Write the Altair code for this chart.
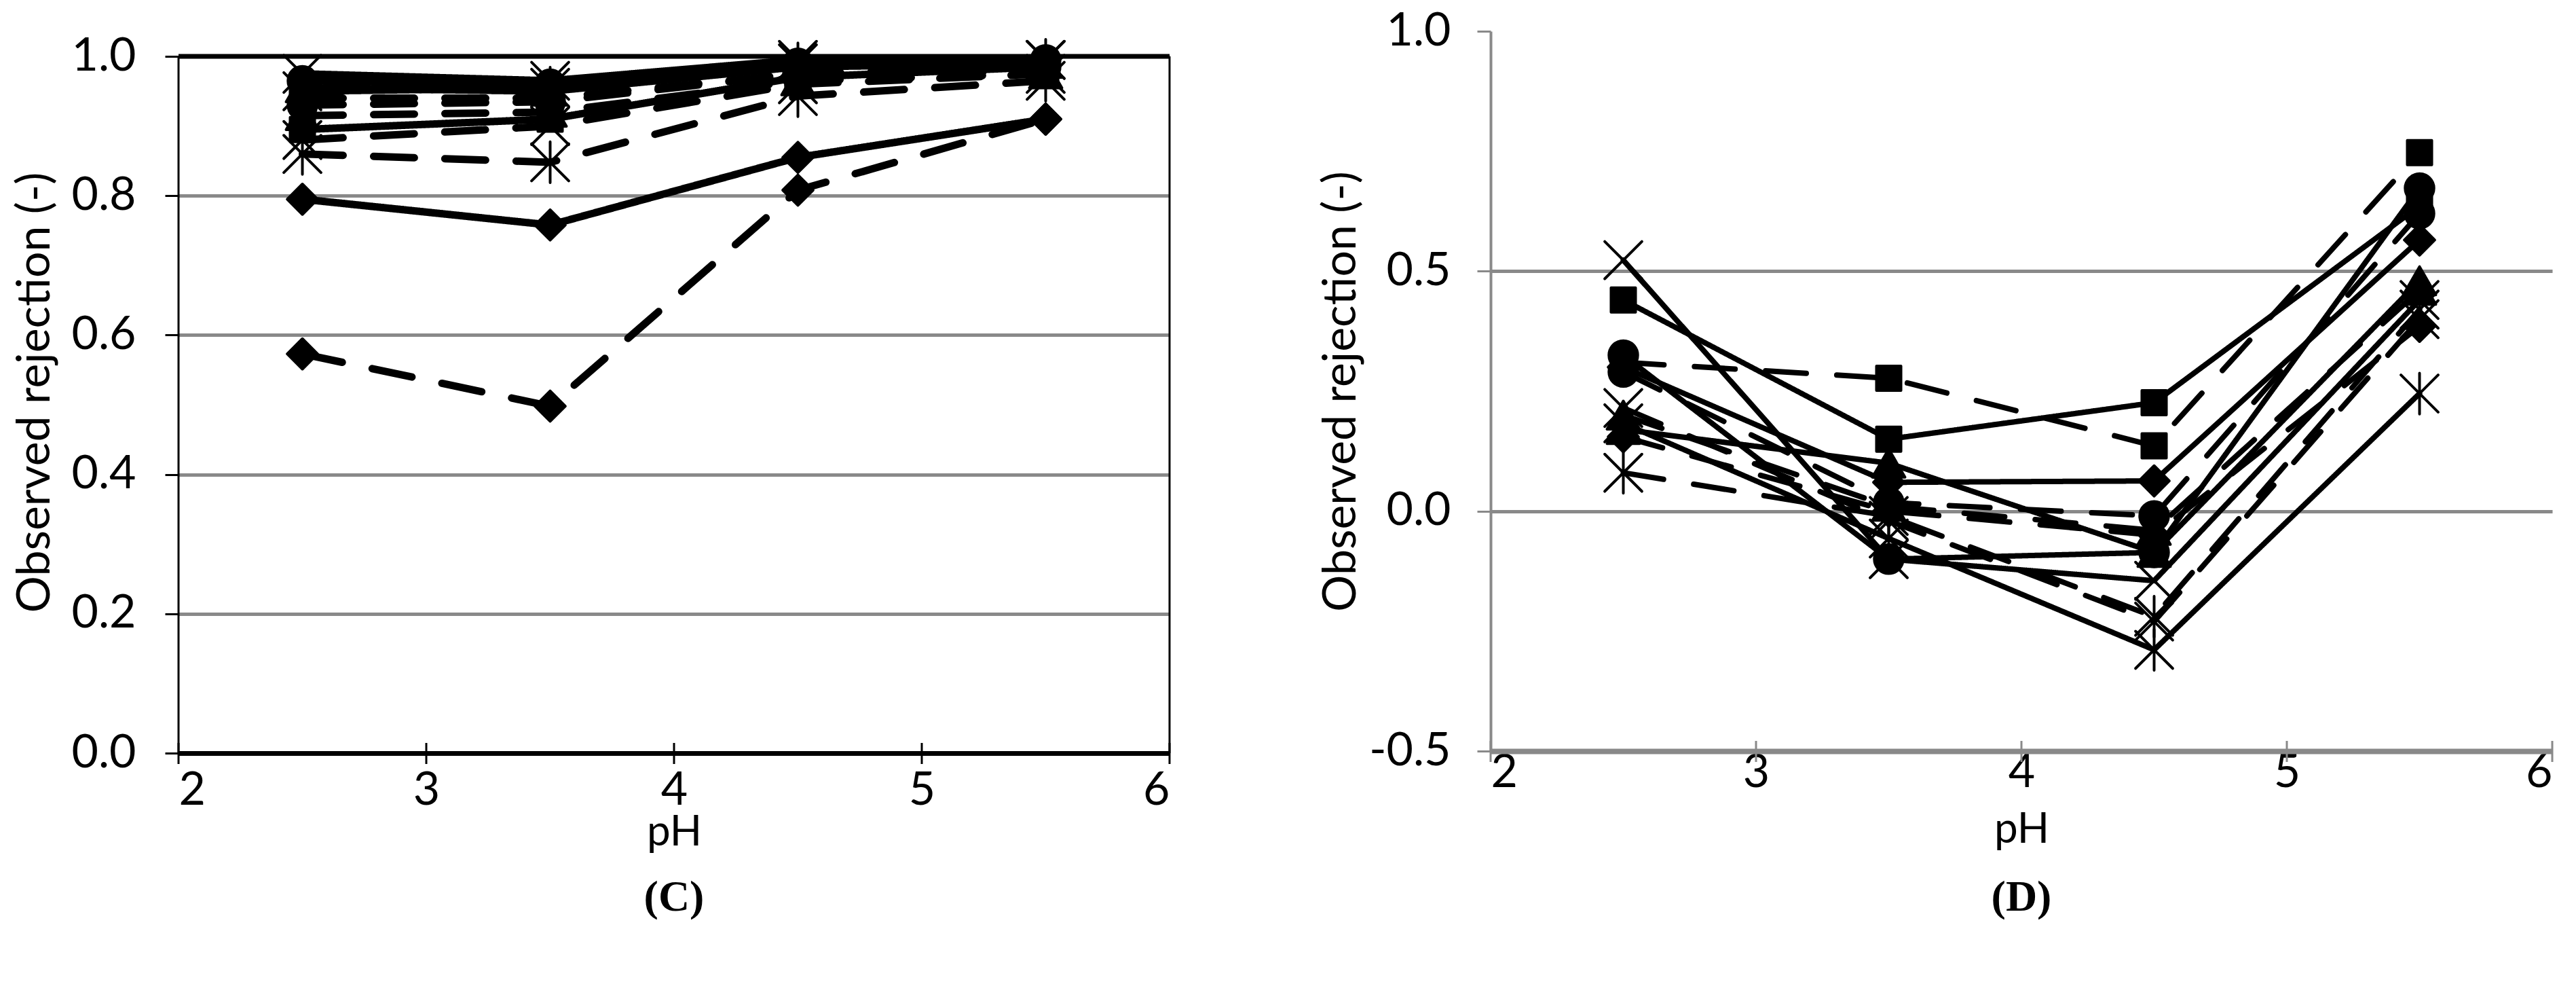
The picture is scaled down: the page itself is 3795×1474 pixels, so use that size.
import altair as alt
import pandas as pd

# ---------------- data ----------------
PH = [2.5, 3.5, 4.5, 5.5]
X_TICKS = [2, 3, 4, 5, 6]
Y_TICKS_C = [0.0, 0.2, 0.4, 0.6, 0.8, 1.0]
Y_TICKS_D = [-0.5, 0.0, 0.5, 1.0]
MARKERS = ["diamond", "square", "triangle", "x", "asterisk", "circle"]

# Panel C (solid lines)
C_SOLID_DIAMOND = [0.795, 0.758, 0.855, 0.910]
C_SOLID_SQUARE = [0.895, 0.910, 0.970, 0.985]
C_SOLID_TRIANGLE = [0.955, 0.950, 0.985, 0.990]
C_SOLID_X = [0.975, 0.965, 0.995, 0.995]
C_SOLID_ASTERISK = [0.950, 0.955, 0.990, 0.995]
C_SOLID_CIRCLE = [0.965, 0.960, 0.990, 0.995]
# Panel C (dashed lines)
C_DASH_DIAMOND = [0.573, 0.498, 0.808, 0.910]
C_DASH_SQUARE = [0.940, 0.940, 0.975, 0.980]
C_DASH_TRIANGLE = [0.915, 0.920, 0.965, 0.975]
C_DASH_X = [0.880, 0.900, 0.960, 0.975]
C_DASH_ASTERISK = [0.860, 0.848, 0.943, 0.965]
C_DASH_CIRCLE = [0.930, 0.935, 0.975, 0.985]

# Panel D (solid lines)
D_SOLID_DIAMOND = [0.300, 0.060, 0.063, 0.565]
D_SOLID_SQUARE = [0.440, 0.150, 0.226, 0.636]
D_SOLID_TRIANGLE = [0.170, 0.100, -0.086, 0.480]
D_SOLID_X = [0.523, -0.100, -0.145, 0.440]
D_SOLID_ASTERISK = [0.183, -0.057, -0.289, 0.245]
D_SOLID_CIRCLE = [0.325, -0.100, -0.086, 0.673]
# Panel D (dashed lines)
D_DASH_DIAMOND = [0.155, 0.000, -0.050, 0.385]
D_DASH_SQUARE = [0.310, 0.277, 0.136, 0.747]
D_DASH_TRIANGLE = [0.200, 0.010, -0.040, 0.460]
D_DASH_X = [0.215, -0.020, -0.230, 0.400]
D_DASH_ASTERISK = [0.080, -0.010, -0.220, 0.420]
D_DASH_CIRCLE = [0.290, 0.018, -0.010, 0.620]

C_SERIES = {
    ("diamond", "solid"): C_SOLID_DIAMOND, ("square", "solid"): C_SOLID_SQUARE,
    ("triangle", "solid"): C_SOLID_TRIANGLE, ("x", "solid"): C_SOLID_X,
    ("asterisk", "solid"): C_SOLID_ASTERISK, ("circle", "solid"): C_SOLID_CIRCLE,
    ("diamond", "dashed"): C_DASH_DIAMOND, ("square", "dashed"): C_DASH_SQUARE,
    ("triangle", "dashed"): C_DASH_TRIANGLE, ("x", "dashed"): C_DASH_X,
    ("asterisk", "dashed"): C_DASH_ASTERISK, ("circle", "dashed"): C_DASH_CIRCLE,
}
D_SERIES = {
    ("diamond", "solid"): D_SOLID_DIAMOND, ("square", "solid"): D_SOLID_SQUARE,
    ("triangle", "solid"): D_SOLID_TRIANGLE, ("x", "solid"): D_SOLID_X,
    ("asterisk", "solid"): D_SOLID_ASTERISK, ("circle", "solid"): D_SOLID_CIRCLE,
    ("diamond", "dashed"): D_DASH_DIAMOND, ("square", "dashed"): D_DASH_SQUARE,
    ("triangle", "dashed"): D_DASH_TRIANGLE, ("x", "dashed"): D_DASH_X,
    ("asterisk", "dashed"): D_DASH_ASTERISK, ("circle", "dashed"): D_DASH_CIRCLE,
}


def long_df(series):
    rows = []
    for (marker, style), vals in series.items():
        for ph, v in zip(PH, vals):
            rows.append({"series": f"{marker}-{style}", "marker": marker,
                         "style": style, "ph": ph, "value": v})
    return pd.DataFrame(rows)


df_c = long_df(C_SERIES)
df_d = long_df(D_SERIES)
ticks_df = pd.DataFrame({"ph": X_TICKS})

# ---------------- style ----------------
FONT = "Lato"
FS = 68
FS_XTITLE = 62
GRAY = "#898989"
SHAPES = {
    "diamond": ("diamond", 2000),
    "square": ("square", 1300),
    "triangle": ("triangle-up", 2300),
    "circle": ("circle", 1800),
    "x": ("M-1,-1L1,1M-1,1L1,-1", 3000),
    "asterisk": ("M-1,-1L1,1M-1,1L1,-1M0,-1.1L0,1.1", 3000),
}


def build_panel(df, ydom, yticks, W, H, axis_color, frame, ygrid_hide_top,
                label_pad_x, title_pad_x, label_pad_y, title_pad_y,
                letter, lw, dash, title_off):
    xscale = alt.Scale(domain=[X_TICKS[0], X_TICKS[-1]], nice=False, zero=False)
    yscale = alt.Scale(domain=ydom, nice=False, zero=False)

    if ygrid_hide_top:
        grid_color = alt.condition("datum.value >= 1", alt.value("transparent"),
                                   alt.value(GRAY))
    else:
        grid_color = GRAY

    xaxis = alt.Axis(values=X_TICKS, format="d", title="pH", ticks=False, grid=False,
                     domainColor=axis_color, domainWidth=7 if frame else 8,
                     labelFont=FONT, labelFontSize=FS, labelColor="black",
                     labelPadding=label_pad_x, titleFont=FONT, titleFontSize=FS_XTITLE,
                     titleFontWeight="normal", titleColor="black",
                     titlePadding=title_pad_x)
    yaxis = alt.Axis(values=yticks, title="Observed rejection (-)",
                     labelExpr="replace(format(datum.value, '.1f'), '\u2212', '-')",
                     grid=True, gridColor=grid_color, gridWidth=5,
                     domain=not frame,
                     domainColor=axis_color, domainWidth=4,
                     tickColor=axis_color, tickWidth=3, tickSize=20,
                     labelFont=FONT, labelFontSize=FS, labelColor="black",
                     labelPadding=label_pad_y, titleFont=FONT, titleFontSize=FS,
                     titleFontWeight="normal", titleColor="black",
                     titlePadding=title_pad_y)

    X = alt.X("ph:Q", scale=xscale, axis=xaxis)
    Y = alt.Y("value:Q", scale=yscale, axis=yaxis)

    base = alt.Chart(df)
    lines = base.mark_line(color="black", strokeWidth=lw, strokeCap="round",
                           strokeJoin="round").encode(
        x=X, y=Y,
        detail="series:N",
        strokeDash=alt.StrokeDash("style:N", scale=alt.Scale(
            domain=["solid", "dashed"], range=[[1, 0], dash]), legend=None),
    )
    layers = [lines]
    for m in MARKERS:
        shape, size = SHAPES[m]
        pts = base.transform_filter(alt.datum.marker == m).mark_point(
            shape=shape, size=size, fill="black", stroke="black", strokeWidth=4,
            opacity=1, fillOpacity=1, strokeJoin="round", strokeCap="round").encode(
            x=X, y=Y)
        layers.append(pts)

    cross = alt.Chart(ticks_df).mark_rule(color=axis_color, strokeWidth=3).encode(
        x=X, y=alt.value(H - 15), y2=alt.value(H + 16))
    layers.append(cross)

    if frame:
        # box around the plot: thick top edge, thin sides, at y = 1.0
        top_df = pd.DataFrame({"ph": [X_TICKS[0]], "ph2": [X_TICKS[-1]], "value": [1.0]})
        top = alt.Chart(top_df).mark_rule(color="black", strokeWidth=7).encode(
            x=X, x2="ph2:Q", y=Y)
        side_df = pd.DataFrame({"ph": [X_TICKS[0], X_TICKS[-1]], "value": [0.0, 0.0],
                                "value2": [1.0, 1.0]})
        sides = alt.Chart(side_df).mark_rule(color="black", strokeWidth=3).encode(
            x=X, y=Y, y2="value2:Q")
        layers += [top, sides]

    view = alt.ViewBackground(stroke="transparent", strokeWidth=0)

    return alt.layer(*layers).properties(
        width=W, height=H, view=view,
        title=alt.TitleParams(letter, orient="bottom", font="Liberation Serif",
                              fontSize=64, fontWeight="bold", color="black",
                              offset=title_off),
    )


panel_c = build_panel(df_c, [0, 1.0361], Y_TICKS_C, 1460, 1063, "black", True, False,
                      21, -3, 43, 19, "(C)", 11, [60, 45], 34)
panel_d = build_panel(df_d, [-0.5, 1.0], Y_TICKS_D, 1564, 1060, GRAY, False, True,
                      -2, 19, 39, 6, "(D)", 8, [45, 37], 38)

chart = alt.hconcat(panel_c, panel_d, spacing=215).properties(
    padding={"left": 10, "top": 4, "right": 0, "bottom": 0},
    background="white",
)

chart.save("out.html", embed_options={"renderer": "svg", "actions": False})
